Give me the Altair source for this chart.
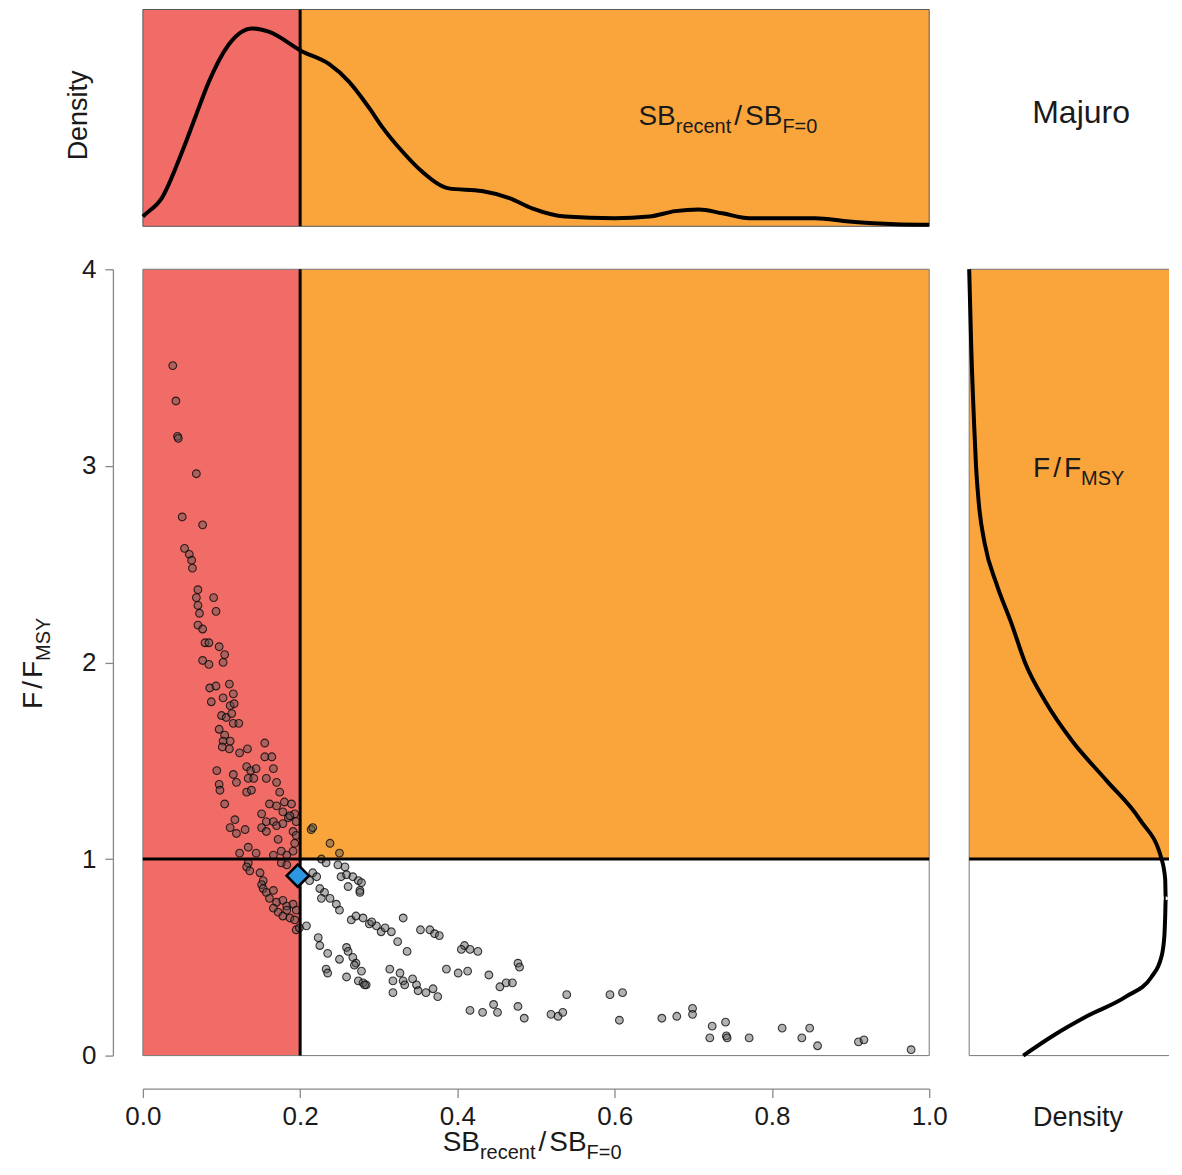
import altair as alt
import pandas as pd

FONT = "Liberation Sans"
TXT = "#1a1a1a"
RED = "#F26C67"
ORANGE = "#FAA53C"
BLUE = "#2D96E1"

# ---------------- data ----------------
sb_ratio = [
    0.038, 0.042, 0.044, 0.045, 0.068, 0.050, 0.076, 0.053, 0.059, 0.062, 0.063,
    0.070, 0.068, 0.090, 0.070, 0.072, 0.093, 0.070, 0.076, 0.079, 0.084, 0.097, 0.104, 0.076, 0.084,
    0.102, 0.085, 0.093, 0.110, 0.087, 0.102, 0.115, 0.111, 0.116, 0.100, 0.106, 0.113, 0.115, 0.122,
    0.097, 0.104, 0.102, 0.111, 0.101, 0.110, 0.123, 0.133, 0.155, 0.155, 0.164, 0.132, 0.137, 0.144,
    0.166, 0.094, 0.115, 0.119, 0.134, 0.141, 0.157, 0.170, 0.097, 0.098, 0.132, 0.138, 0.174, 0.104,
    0.161, 0.170, 0.180, 0.189, 0.117, 0.151, 0.157, 0.166, 0.178, 0.185, 0.193, 0.111, 0.130, 0.214,
    0.187, 0.195, 0.119, 0.151, 0.157, 0.170, 0.178, 0.191, 0.172, 0.193, 0.195, 0.216, 0.238, 0.250,
    0.123, 0.134, 0.144, 0.166, 0.176, 0.183, 0.191, 0.134, 0.132, 0.136, 0.149, 0.176, 0.183, 0.227,
    0.233, 0.248, 0.257, 0.216, 0.221, 0.252, 0.259, 0.267, 0.274, 0.261, 0.276, 0.278, 0.212, 0.153,
    0.151, 0.153, 0.157, 0.166, 0.225, 0.231, 0.238, 0.246, 0.250, 0.227, 0.161, 0.170, 0.178, 0.183,
    0.191, 0.195, 0.166, 0.172, 0.178, 0.187, 0.183, 0.193, 0.195, 0.199, 0.265, 0.271, 0.280, 0.288,
    0.297, 0.208, 0.223, 0.225, 0.235, 0.250, 0.259, 0.261, 0.267, 0.271, 0.233, 0.235, 0.259, 0.274,
    0.280, 0.284,
    0.276, 0.291, 0.303, 0.308, 0.316, 0.324, 0.331, 0.336, 0.353, 0.365, 0.371, 0.377, 0.409, 0.405,
    0.416, 0.426, 0.269, 0.278, 0.282, 0.314, 0.327, 0.318, 0.331, 0.343, 0.348, 0.318, 0.333, 0.350,
    0.360, 0.369, 0.375, 0.386, 0.401, 0.413, 0.440, 0.454, 0.462, 0.470, 0.477, 0.479, 0.416, 0.432,
    0.446, 0.451, 0.477, 0.485, 0.519, 0.528, 0.534, 0.539, 0.594, 0.610, 0.606,
    0.660, 0.679, 0.699, 0.699, 0.724, 0.741, 0.721, 0.742, 0.743, 0.771, 0.813, 0.848, 0.838, 0.858,
    0.910, 0.917, 0.977,
]
f_ratio = [
    3.51, 3.33, 3.15, 3.14, 2.96, 2.74, 2.70, 2.58, 2.55, 2.52, 2.48,
    2.37, 2.33, 2.33, 2.29, 2.25, 2.26, 2.19, 2.17, 2.10, 2.10, 2.08, 2.04, 2.01, 1.99,
    2.00, 1.87, 1.88, 1.89, 1.80, 1.82, 1.84, 1.78, 1.79, 1.73, 1.72, 1.74, 1.69, 1.69,
    1.66, 1.63, 1.60, 1.60, 1.57, 1.56, 1.54, 1.56, 1.59, 1.52, 1.52, 1.47, 1.45, 1.46,
    1.46, 1.45, 1.43, 1.39, 1.41, 1.41, 1.41, 1.39, 1.38, 1.35, 1.34, 1.35, 1.34, 1.28,
    1.28, 1.27, 1.29, 1.28, 1.20, 1.23, 1.19, 1.19, 1.24, 1.21, 1.23, 1.16, 1.15, 1.15,
    1.22, 1.19, 1.13, 1.16, 1.14, 1.17, 1.18, 1.14, 1.10, 1.08, 1.12, 1.16, 1.08, 1.03,
    1.03, 1.06, 1.03, 1.02, 1.04, 1.02, 1.04, 0.98, 0.96, 0.94, 0.93, 0.98, 0.97, 1.00,
    0.98, 0.97, 0.96, 0.93, 0.91, 0.91, 0.92, 0.91, 0.89, 0.86, 0.84, 0.88, 0.89, 0.89,
    0.87, 0.85, 0.83, 0.84, 0.85, 0.83, 0.80, 0.77, 0.74, 0.80, 0.80, 0.78, 0.79, 0.76,
    0.77, 0.74, 0.75, 0.73, 0.71, 0.70, 0.74, 0.69, 0.64, 0.65, 0.69, 0.71, 0.70, 0.67,
    0.66, 0.66, 0.60, 0.56, 0.52, 0.49, 0.55, 0.53, 0.50, 0.47, 0.44, 0.42, 0.40, 0.38,
    0.37, 0.36,
    0.83, 0.68, 0.63, 0.65, 0.63, 0.58, 0.70, 0.53, 0.64, 0.64, 0.62, 0.61, 0.56, 0.54,
    0.54, 0.53, 0.46, 0.43, 0.36, 0.44, 0.42, 0.38, 0.38, 0.39, 0.36, 0.32, 0.36, 0.33,
    0.32, 0.34, 0.30, 0.44, 0.42, 0.43, 0.41, 0.35, 0.37, 0.37, 0.47, 0.45, 0.23, 0.22,
    0.26, 0.22, 0.25, 0.19, 0.21, 0.20, 0.22, 0.31, 0.31, 0.32, 0.18,
    0.19, 0.20, 0.24, 0.21, 0.15, 0.17, 0.09, 0.10, 0.09, 0.09, 0.14, 0.14, 0.09, 0.05,
    0.07, 0.08, 0.03,
]
current_sb = [0.197]
current_f = [0.915]

top_x = [0.0, 0.003, 0.024, 0.05, 0.066, 0.084, 0.109, 0.139, 0.16, 0.202, 0.237, 0.262,
         0.288, 0.304, 0.33, 0.355, 0.389, 0.431, 0.466, 0.495, 0.537, 0.6, 0.644, 0.677,
         0.707, 0.737, 0.771, 0.813, 0.855, 0.898, 0.957, 1.0]
top_density = [0.18, 0.22, 0.52, 1.38, 1.99, 2.67, 3.35, 3.65, 3.59, 3.23, 2.99, 2.67,
               2.18, 1.84, 1.38, 1.01, 0.70, 0.65, 0.52, 0.33, 0.18, 0.15, 0.18, 0.28,
               0.31, 0.24, 0.15, 0.15, 0.15, 0.09, 0.04, 0.03]

right_f = [0.0, 0.1, 0.2, 0.3, 0.4, 0.5, 0.6, 0.7, 0.8, 0.9, 1.0, 1.2, 1.4, 1.6, 1.8,
           2.0, 2.2, 2.4, 2.6, 2.8, 3.0, 3.2, 3.6, 4.0]
right_density = [0.182, 0.281, 0.396, 0.528, 0.614, 0.647, 0.657, 0.660, 0.662, 0.660,
                 0.648, 0.575, 0.462, 0.347, 0.257, 0.188, 0.142, 0.092, 0.053, 0.033,
                 0.023, 0.017, 0.007, 0.0]

x_ticks = [0.0, 0.2, 0.4, 0.6, 0.8, 1.0]
y_ticks = [0, 1, 2, 3, 4]

SB_LABEL = [("SB", "main"), ("recent", "sub"), ("/", "slash"), ("SB", "main"), ("F=0", "sub")]
F_LABEL = [("F", "main"), ("/", "slash"), ("F", "main"), ("MSY", "sub")]
PLOT_TITLE = "Majuro"
DENSITY_LABEL = "Density"

# ---------------- layout ----------------
W_MAIN, H_MAIN = 787, 787
H_TOP = 217
W_RIGHT = 200
MAIN_FS, SUB_FS, SUB_DY = 28, 20, 8
SLASH_GAP = 3

CHAR_W = {"S": .667, "B": .667, "r": .333, "e": .556, "c": .5, "n": .556, "t": .278,
          "/": .278, "F": .611, "=": .584, "0": .556, "M": .833, "Y": .667}


def tw(s, fs):
    return sum(CHAR_W.get(c, .556) for c in s) * fs


def math_label(pieces, x0, y0, vertical=False):
    layers = []
    pos = 0.0
    for txt, kind in pieces:
        fs = SUB_FS if kind == "sub" else MAIN_FS
        dy = SUB_DY if kind == "sub" else 0
        if kind == "slash":
            pos += SLASH_GAP
        df = pd.DataFrame({"t": [txt]})
        if vertical:
            mk = alt.Chart(df).mark_text(align="left", baseline="alphabetic", angle=270,
                                         fontSize=fs, font=FONT, color=TXT, dy=dy)
            layers.append(mk.encode(text="t:N", x=alt.value(x0), y=alt.value(y0 - pos)))
        else:
            mk = alt.Chart(df).mark_text(align="left", baseline="alphabetic",
                                         fontSize=fs, font=FONT, color=TXT, dy=dy)
            layers.append(mk.encode(text="t:N", x=alt.value(x0 + pos), y=alt.value(y0)))
        pos += tw(txt, fs)
        if kind == "slash":
            pos += SLASH_GAP
    return layers


xsc = alt.Scale(domain=[0, 1], nice=False, zero=False)
ysc = alt.Scale(domain=[0, 4], nice=False, zero=False)

# ---------- main panel ----------
zones = pd.DataFrame({"x": [0, 0.2], "x2": [0.2, 1], "y": [0, 1], "y2": [4, 4], "fill": [RED, ORANGE]})
zone_layer = alt.Chart(zones).mark_rect().encode(
    x=alt.X("x:Q", scale=xsc, title=None,
            axis=alt.Axis(values=x_ticks, format=".1f", offset=33, tickSize=9, labelFontSize=26,
                          labelFont=FONT, labelColor=TXT, domainColor="#888", tickColor="#888",
                          domainWidth=1.3, tickWidth=1.3, grid=False, labelPadding=6,
                          labelFlush=False, labelOverlap=False)),
    x2="x2:Q",
    y=alt.Y("y:Q", scale=ysc, title=None,
            axis=alt.Axis(values=y_ticks, format="d", offset=30, tickSize=8, labelFontSize=26,
                          labelFont=FONT, labelColor=TXT, domainColor="#888", tickColor="#888",
                          domainWidth=1.3, tickWidth=1.3, grid=False, labelPadding=9,
                          labelFlush=False, labelOverlap=False)),
    y2="y2:Q",
    color=alt.Color("fill:N", scale=None),
)

border = pd.DataFrame({"x": [0], "x2": [1], "y": [0], "y2": [4]})
border_layer = alt.Chart(border).mark_rect(fillOpacity=0, stroke="#777", strokeWidth=1).encode(
    x="x:Q", x2="x2:Q", y="y:Q", y2="y2:Q")

pts = pd.DataFrame({"x": sb_ratio, "y": f_ratio})
pts_layer = alt.Chart(pts).mark_point(shape="circle", filled=True, size=60, fill="#555555",
                                      fillOpacity=0.45, stroke="black", strokeOpacity=0.75,
                                      strokeWidth=1.1).encode(x="x:Q", y="y:Q")

vline = pd.DataFrame({"x": [0.2], "y": [0], "y2": [4]})
vline_layer = alt.Chart(vline).mark_rule(color="black", strokeWidth=3).encode(x="x:Q", y="y:Q", y2="y2:Q")
hline = pd.DataFrame({"y": [1], "x": [0], "x2": [1]})
hline_layer = alt.Chart(hline).mark_rule(color="black", strokeWidth=3).encode(y="y:Q", x="x:Q", x2="x2:Q")

cur = pd.DataFrame({"x": current_sb, "y": current_f})
cur_layer = alt.Chart(cur).mark_point(shape="diamond", filled=True, size=500, fill=BLUE,
                                      stroke="black", strokeWidth=2.5, opacity=1).encode(x="x:Q", y="y:Q")

x_title = math_label(SB_LABEL, 300, 882)
y_title = math_label(F_LABEL, -101, 440, vertical=True)

main = alt.layer(zone_layer, border_layer, pts_layer, vline_layer, hline_layer, cur_layer,
                 *x_title, *y_title).properties(width=W_MAIN, height=H_MAIN)

# ---------- top density ----------
tsc = alt.Scale(domain=[0, 4], nice=False, zero=False)
top_zones = pd.DataFrame({"x": [0, 0.2], "x2": [0.2, 1], "y": [0, 0], "y2": [4, 4], "fill": [RED, ORANGE]})
top_zone_layer = alt.Chart(top_zones).mark_rect().encode(
    x=alt.X("x:Q", scale=xsc, axis=None), x2="x2:Q",
    y=alt.Y("y:Q", scale=tsc, axis=None), y2="y2:Q",
    color=alt.Color("fill:N", scale=None))
top_border = alt.Chart(border).mark_rect(fillOpacity=0, stroke="#555", strokeWidth=1).encode(
    x="x:Q", x2="x2:Q", y="y:Q", y2="y2:Q")
top_vline = alt.Chart(vline).mark_rule(color="black", strokeWidth=3, clip=True).encode(
    x="x:Q", y="y:Q", y2="y2:Q")
top_curve = alt.Chart(pd.DataFrame({"x": top_x, "d": top_density})).mark_line(
    color="black", strokeWidth=4, interpolate="monotone").encode(x="x:Q", y="d:Q")
top_ylab = alt.Chart(pd.DataFrame({"t": [DENSITY_LABEL]})).mark_text(
    angle=270, align="center", baseline="alphabetic", fontSize=27, font=FONT, color=TXT).encode(
    text="t:N", x=alt.value(-56), y=alt.value(106))
top_label = math_label(SB_LABEL, 496, 116)
top = alt.layer(top_zone_layer, top_border, top_vline, top_curve, top_ylab, *top_label).properties(
    width=W_MAIN, height=H_TOP)

# ---------- title cell ----------
title_cell = alt.Chart(pd.DataFrame({"t": [PLOT_TITLE]})).mark_text(
    align="center", baseline="alphabetic", fontSize=32, font=FONT, color=TXT).encode(
    text="t:N", x=alt.value(112), y=alt.value(114)).properties(width=W_RIGHT, height=H_TOP)

# ---------- right density ----------
RMAX = 0.673
rsc = alt.Scale(domain=[0, RMAX], nice=False, zero=False)
r_zone = pd.DataFrame({"x": [0], "x2": [RMAX], "y": [1], "y2": [4]})
r_zone_layer = alt.Chart(r_zone).mark_rect(color=ORANGE).encode(
    x=alt.X("x:Q", scale=rsc, axis=None), x2="x2:Q",
    y=alt.Y("y:Q", scale=ysc, axis=None), y2="y2:Q")
r_edges = pd.DataFrame({"x": [0, 0, 0], "x2": [0, RMAX, RMAX], "y": [0, 0, 4], "y2": [4, 0, 4]})
r_edge_layer = alt.Chart(r_edges).mark_rule(color="#777", strokeWidth=1).encode(
    x="x:Q", x2="x2:Q", y="y:Q", y2="y2:Q")
r_hline = alt.Chart(pd.DataFrame({"y": [1], "x": [0], "x2": [RMAX]})).mark_rule(
    color="black", strokeWidth=3).encode(y="y:Q", x="x:Q", x2="x2:Q")
r_curve = alt.Chart(pd.DataFrame({"f": right_f, "d": right_density})).mark_line(
    color="black", strokeWidth=4, interpolate="monotone").encode(
    x="d:Q", y="f:Q", order=alt.Order("f:Q"))
r_label = math_label(F_LABEL, 64, 208)
r_xlab = alt.Chart(pd.DataFrame({"t": [DENSITY_LABEL]})).mark_text(
    align="center", baseline="alphabetic", fontSize=27, font=FONT, color=TXT).encode(
    text="t:N", x=alt.value(109), y=alt.value(857))
right = alt.layer(r_zone_layer, r_edge_layer, r_hline, r_curve, *r_label, r_xlab).properties(
    width=W_RIGHT, height=H_MAIN)

chart = alt.concat(top, title_cell, main, right, columns=2,
                   spacing=alt.RowColnumber(row=43, column=40), bounds="flush").configure_view(
    strokeWidth=0).properties(padding={"left": 11, "top": 0, "right": 0, "bottom": 0})

chart.save("out.html", embed_options={"renderer": "svg", "actions": False})
